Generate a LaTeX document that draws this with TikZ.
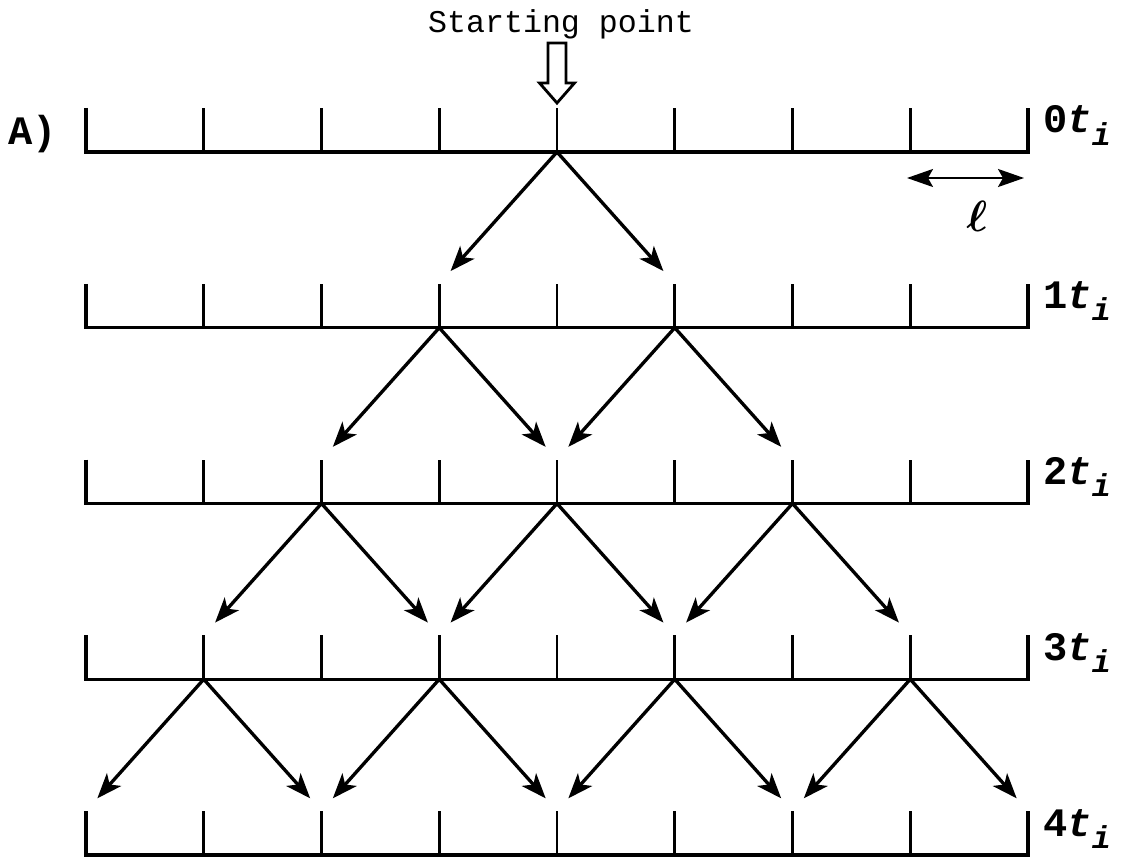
\documentclass[tikz,border=0pt]{standalone}
\usepackage{amsmath}
\usepackage{fontspec}
\setmonofont{Liberation Mono}
\usetikzlibrary{arrows.meta}

\begin{document}
\begin{tikzpicture}[
    x=0.02cm, y=-0.02cm,
    axis/.style={line width=1.9pt, line join=miter},
    tick/.style={line width=1.6pt},
    jump/.style={line width=1.9pt, -{Stealth[length=0.5cm, width=0.38cm, inset=0.13cm]}, shorten >=0.34cm},
    span/.style={line width=1.3pt, {Stealth[length=0.52cm, width=0.36cm, inset=0.1cm]}-{Stealth[length=0.52cm, width=0.36cm, inset=0.1cm]}},
    hollow/.style={line width=1.6pt, fill=white, line join=miter},
    rowlabel/.style={font=\fontsize{23}{24}\selectfont\ttfamily\bfseries, anchor=base west, inner sep=0pt},
    note/.style={font=\fontsize{18}{20}\selectfont\ttfamily, anchor=base, inner sep=0pt}
]
\useasboundingbox (0,0) rectangle (1132,858);
% time rows
\foreach \r in {0,...,4}{
    \foreach \k in {0,...,8}{
        \coordinate (b\r-\k) at ({86+117.75*\k}, {152+175.75*\r});
        \coordinate (t\r-\k) at ({86+117.75*\k}, {108+175.75*\r});
    }
    \draw[axis] (t\r-0) -- (b\r-0) -- (b\r-8) -- (t\r-8);
    \foreach \k in {1,...,7}
        \draw[tick] (b\r-\k) -- (t\r-\k);
    \node[rowlabel] (lab\r) at (1043, {133+175.75*\r})
        {\r{\itshape t}\raisebox{-0.3em}{\fontsize{18}{18}\selectfont\itshape i}};
}
% steps
\foreach \r in {0,...,3}{
    \pgfmathtruncatemacro\nr{\r+1}
    \foreach \j in {0,...,\r}{
        \pgfmathtruncatemacro\k{4-\r+2*\j}
        \pgfmathtruncatemacro\kl{\k-1}
        \pgfmathtruncatemacro\kr{\k+1}
        \draw[jump] (b\r-\k) -- (t\nr-\kl);
        \draw[jump] (b\r-\k) -- (t\nr-\kr);
    }
}
% start marker
\node[note] (start) at (561, 33) {Starting point};
\draw[hollow, shift={(t0-4)}] (-9,-65) -- (-9,-25) -- (-17.5,-25) -- (0,-5)
    -- (17.5,-25) -- (9,-25) -- (9,-65) -- cycle;
% step length
\coordinate (ella) at (907, 178);
\coordinate (ellb) at (1024, 178);
\draw[span] (ella) -- (ellb);
\node[font=\fontsize{26}{28}\selectfont] (ell) at (977, 216) {$\boldsymbol{\ell}$};
\node[rowlabel] (panel) at (8, 145) {A)};
\end{tikzpicture}
\end{document}
